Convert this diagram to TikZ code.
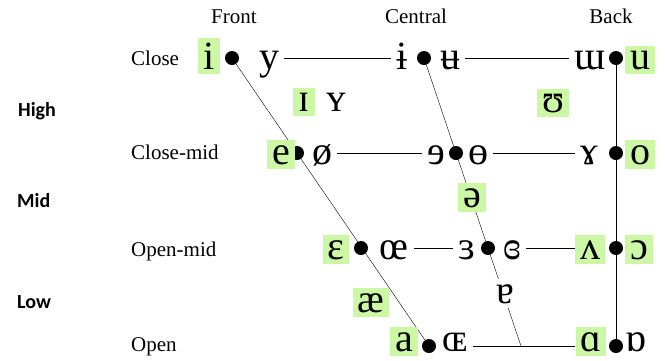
\documentclass[tikz,border=0pt]{standalone}
\usepackage{fontspec}
\setmainfont{Liberation Serif}
\newfontfamily\ipafont{Liberation Serif}
\newfontfamily\sidefont{Carlito}
\usetikzlibrary{backgrounds}
\definecolor{hl}{RGB}{204,247,165}
\begin{document}
\begin{tikzpicture}[x=1pt,y=-1pt,
  sym/.style={font=\ipafont\fontsize{40}{40}\selectfont, inner sep=5pt, anchor=base},
  hlsym/.style={sym, fill=hl},
  vdot/.style={circle, fill=black, inner sep=0pt, minimum size=14pt},
  hdr/.style={font=\fontsize{21}{21}\selectfont, inner sep=0pt, anchor=base},
  lab/.style={font=\fontsize{21}{21}\selectfont, inner sep=0pt, anchor=base west},
  side/.style={font=\sidefont\bfseries\fontsize{20}{20}\selectfont, inner sep=0pt, anchor=base west},
  chart/.style={line width=1.6pt}]
\useasboundingbox (0,0) rectangle (665,360);
% dots
\node[vdot] (dcf) at (232,58) {};
\node[vdot] (dcc) at (424,58) {};
\node[vdot] (dcb) at (616,58) {};
\node[vdot] (dmf) at (297,153) {};
\node[vdot] (dmc) at (456,153) {};
\node[vdot] (dmb) at (616,153) {};
\node[vdot] (dof) at (361,248) {};
\node[vdot] (doc) at (488,248) {};
\node[vdot] (dob) at (616,248) {};
\node[vdot] (daf) at (429,346) {};
\node[vdot] (dab) at (616,346) {};
\coordinate (cend) at (521,346);
% symbols
\node[hlsym] (i) at (209,69) {i};
\node[sym] (y) at (269,69) {y};
\node[sym] (ibar) at (402,69) {ɨ};
\node[sym] (ubar) at (450,69) {ʉ};
\node[sym] (turnm) at (590,69) {ɯ};
\node[hlsym] (u) at (640,69) {u};
\node[hlsym] (smallI) at (304,111) {ɪ};
\node[sym] (smallY) at (336,111) {ʏ};
\node[hlsym] (upsilon) at (553,112) {ʊ};
\node[hlsym] (e) at (281,164) {e};
\node[sym] (oslash) at (322,164) {ø};
\node[sym] (reve) at (436,164) {ɘ};
\node[sym] (baro) at (478,164) {ɵ};
\node[sym] (ramshorn) at (589,164) {ɤ};
\node[hlsym] (o) at (640,164) {o};
\node[hlsym] (schwa) at (472,207) {ə};
\node[hlsym] (epsilon) at (336,259) {ɛ};
\node[sym] (oe) at (394,259) {œ};
\node[sym] (reveps) at (467,259) {ɜ};
\node[sym] (creveps) at (512,259) {ɞ};
\node[hlsym] (wedge) at (590,259) {ʌ};
\node[hlsym] (openo) at (639,259) {ɔ};
\node[hlsym] (ash) at (371,312) {æ};
\node[sym, fill=white] (turna) at (505,303) {ɐ};
\node[hlsym] (a) at (404,351) {a};
\node[sym] (OE) at (455,351) {ɶ};
\node[hlsym] (alpha) at (591,351) {ɑ};
\node[sym] (turnalpha) at (636,351) {ɒ};
% labels
\node[hdr] (hfront) at (234,23) {Front};
\node[hdr] (hcentral) at (416,23) {Central};
\node[hdr] (hback) at (611,23) {Back};
\node[lab] (lclose) at (131,65) {Close};
\node[lab] (lclosemid) at (131,159) {Close-mid};
\node[lab] (lopenmid) at (131,256) {Open-mid};
\node[lab] (lopen) at (131,351) {Open};
\node[side] (high) at (18,116) {High};
\node[side] (mid) at (17,207) {Mid};
\node[side] (low) at (17,308) {Low};
% lines
\begin{scope}[on background layer, chart]
\draw (dcf) -- (daf);
\draw (dcc) -- (cend);
\draw (dcb) -- (dab);
\draw (y.east |- dcf) -- (ibar.west |- dcf);
\draw (ubar.east |- dcc) -- (turnm.west |- dcc);
\draw (oslash.east |- dmf) -- (reve.west |- dmf);
\draw (baro.east |- dmc) -- (ramshorn.west |- dmc);
\draw (oe.east |- dof) -- (reveps.west |- dof);
\draw (creveps.east |- doc) -- (wedge.west |- doc);
\draw (OE.east |- daf) -- (alpha.west |- daf);
\end{scope}
\end{tikzpicture}
\end{document}
